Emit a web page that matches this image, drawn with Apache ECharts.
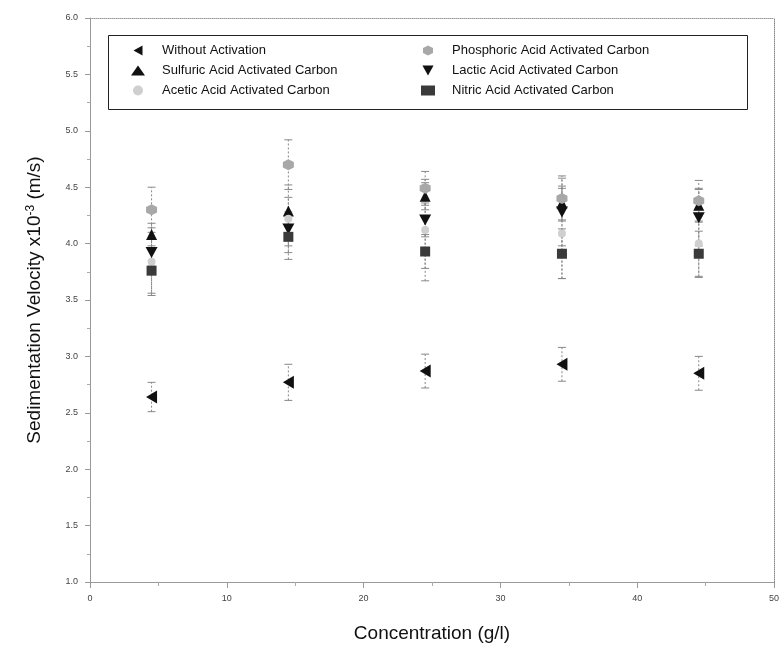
<!DOCTYPE html>
<html>
<head>
<meta charset="utf-8">
<script src="https://cdn.jsdelivr.net/npm/echarts@6/dist/echarts.min.js"></script>
<style>
  html, body { margin: 0; padding: 0; background: #fff; }
  #chart { width: 782px; height: 648px; }
</style>
</head>
<body>
<div id="chart"></div>
<script>
// concentration (g/l)
const conc = [4.5, 14.5, 24.5, 34.5, 44.5]

// sedimentation velocity x10^-3 (m/s) and error bar half-widths
const without = [2.64, 2.77, 2.87, 2.93, 2.85]
const withoutErr = [0.13, 0.16, 0.15, 0.15, 0.15]
const sulfuric = [4.08, 4.29, 4.42, 4.36, 4.34]
const sulfuricErr = [0.1, 0.12, 0.12, 0.15, 0.15]
const acetic = [3.84, 4.22, 4.12, 4.09, 4.0]
const aceticErr = [0.3, 0.3, 0.45, 0.4, 0.3]
const phosphoric = [4.30, 4.70, 4.49, 4.40, 4.38]
const phosphoricErr = [0.2, 0.22, 0.15, 0.2, 0.18]
const lactic = [3.92, 4.13, 4.21, 4.28, 4.23]
const lacticErr = [0.12, 0.15, 0.15, 0.3, 0.25]
const nitric = [3.76, 4.06, 3.93, 3.91, 3.91]
const nitricErr = [0.2, 0.2, 0.15, 0.22, 0.2]

const names = [
  'Without Activation',
  'Sulfuric Acid Activated Carbon',
  'Acetic Acid Activated Carbon',
  'Phosphoric Acid Activated Carbon',
  'Lactic Acid Activated Carbon',
  'Nitric Acid Activated Carbon'
]

const FONT = '"Liberation Sans", Arial, sans-serif'
const leftTri = 'path://M0,5 L9,0 L9,10 Z'
const downTri = 'path://M0,0 L10,0 L5,9 Z'
const hexagon = 'path://M5,0 L10,2.5 L10,7.5 L5,10 L0,7.5 L0,2.5 Z'

const chart = echarts.init(document.getElementById('chart'))

const errorBars = (vals, errs) => ({
  type: 'custom',
  silent: true,
  z: 1,
  data: conc.map((c, i) => [c, vals[i] - errs[i], vals[i] + errs[i]]),
  encode: { x: 0, y: [1, 2] },
  renderItem: (params, api) => {
    const lo = api.coord([api.value(0), api.value(1)])
    const hi = api.coord([api.value(0), api.value(2)])
    const st = { stroke: '#888', lineWidth: 1, lineDash: [2, 2] }
    return {
      type: 'group',
      children: [
        { type: 'line', shape: { x1: lo[0], y1: lo[1], x2: hi[0], y2: hi[1] }, style: st },
        { type: 'line', shape: { x1: lo[0] - 4, y1: lo[1], x2: lo[0] + 4, y2: lo[1] }, style: { stroke: '#888', lineWidth: 1 } },
        { type: 'line', shape: { x1: hi[0] - 4, y1: hi[1], x2: hi[0] + 4, y2: hi[1] }, style: { stroke: '#888', lineWidth: 1 } }
      ]
    }
  }
})

const points = (name, vals, symbol, size, color) => ({
  name,
  type: 'scatter',
  z: 3,
  data: conc.map((c, i) => [c, vals[i]]),
  symbol,
  symbolSize: size,
  itemStyle: { color, opacity: 1 }
})

const option = {
  animation: false,
  backgroundColor: '#fff',
  textStyle: { fontFamily: FONT },
  grid: { left: 90, right: 5, top: 18, bottom: 64 },
  legend: [
    {
      data: [names[0], names[1], names[2]],
      orient: 'vertical',
      left: 126,
      top: 39,
      itemGap: 7,
      itemWidth: 14,
      itemHeight: 10,
      textStyle: { fontSize: 13, color: '#111', fontFamily: FONT, padding: [0, 0, 0, 12] }
    },
    {
      data: [names[3], names[4], names[5]],
      orient: 'vertical',
      left: 416,
      top: 39,
      itemGap: 7,
      itemWidth: 14,
      itemHeight: 10,
      textStyle: { fontSize: 13, color: '#111', fontFamily: FONT, padding: [0, 0, 0, 12] }
    }
  ],
  graphic: [
    {
      type: 'rect',
      left: 106,
      top: 33,
      shape: { width: 639, height: 74 },
      style: { fill: 'none', stroke: '#222', lineWidth: 1 },
      z: 10
    }
  ],
  xAxis: [
    {
      type: 'value',
      min: 0,
      max: 50,
      interval: 10,
      name: 'Concentration (g/l)',
      nameLocation: 'middle',
      nameGap: 42,
      nameTextStyle: { fontSize: 19, color: '#111', fontFamily: FONT },
      axisLine: { lineStyle: { color: '#999' } },
      axisTick: { show: true, length: 6, lineStyle: { color: '#999' } },
      minorTick: { show: true, splitNumber: 2, length: 4, lineStyle: { color: '#aaa' } },
      axisLabel: { fontSize: 9, color: '#444', margin: 12 },
      splitLine: { show: false }
    },
    {
      type: 'value',
      position: 'top',
      min: 0,
      max: 50,
      axisLine: { show: true, lineStyle: { color: '#999', type: 'dotted' } },
      axisTick: { show: false },
      axisLabel: { show: false },
      splitLine: { show: false }
    }
  ],
  yAxis: [
    {
      type: 'value',
      min: 1,
      max: 6,
      interval: 0.5,
      name: 'Sedimentation Velocity x10{sup|-3} (m/s)',
      nameLocation: 'middle',
      nameGap: 45,
      nameTextStyle: {
        fontSize: 19,
        color: '#111',
        fontFamily: FONT,
        rich: { sup: { fontSize: 12, color: '#111', verticalAlign: 'top', padding: [0, 0, 8, 0] } }
      },
      axisLine: { show: true, lineStyle: { color: '#999' } },
      axisTick: { show: true, length: 5, lineStyle: { color: '#999' } },
      minorTick: { show: true, splitNumber: 2, length: 3, lineStyle: { color: '#aaa' } },
      axisLabel: { fontSize: 9, color: '#444', margin: 12, formatter: v => v.toFixed(1) },
      splitLine: { show: false }
    },
    {
      type: 'value',
      position: 'right',
      min: 1,
      max: 6,
      axisLine: { show: true, onZero: false, lineStyle: { color: '#888', type: 'dotted' } },
      axisTick: { show: false },
      axisLabel: { show: false },
      splitLine: { show: false }
    }
  ],
  series: [
    errorBars(without, withoutErr),
    errorBars(sulfuric, sulfuricErr),
    errorBars(acetic, aceticErr),
    errorBars(phosphoric, phosphoricErr),
    errorBars(lactic, lacticErr),
    errorBars(nitric, nitricErr),
    points(names[0], without, leftTri, [11, 13], '#111'),
    points(names[1], sulfuric, 'triangle', [11, 11], '#111'),
    points(names[2], acetic, 'circle', 8, '#cfcfcf'),
    points(names[3], phosphoric, hexagon, 11, '#a8a8a8'),
    points(names[4], lactic, downTri, [12, 11], '#111'),
    points(names[5], nitric, 'rect', 10, '#3a3a3a')
  ]
}

chart.setOption(option)
</script>
</body>
</html>
